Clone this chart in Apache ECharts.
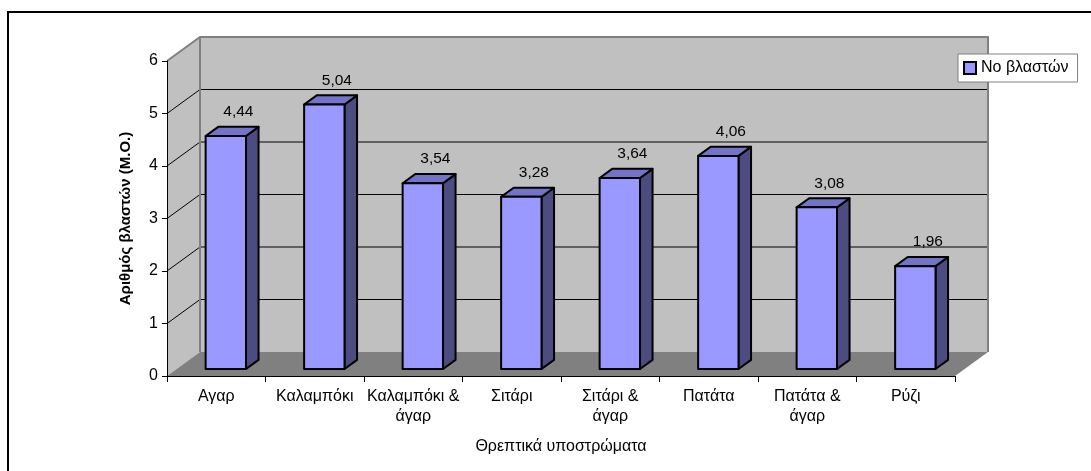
<!DOCTYPE html>
<html>
<head>
<meta charset="utf-8">
<script src="https://cdn.jsdelivr.net/npm/echarts@6/dist/echarts.min.js"></script>
<style>
  html, body { margin: 0; padding: 0; background: #fff; }
  #chart { width: 1091px; height: 471px; }
</style>
</head>
<body>
<div id="chart"></div>
<script>
// Substrates and mean number of shoots
const categories = ['Αγαρ', 'Καλαμπόκι', 'Καλαμπόκι &\nάγαρ', 'Σιτάρι', 'Σιτάρι &\nάγαρ', 'Πατάτα', 'Πατάτα &\nάγαρ', 'Ρύζι'];
const shoots = [4.44, 5.04, 3.54, 3.28, 3.64, 4.06, 3.08, 1.96];
const yTicks = [0, 1, 2, 3, 4, 5, 6];
const seriesName = 'Νο βλαστών';

// 3D look: depth vector of the plot box and the depth slice the columns occupy
const DX = 33, DY = -24;
const FRONT = 0.29, BACK = 0.67;
const BAR_W = 0.41;
const FONT = '"Liberation Sans", Arial, sans-serif';

const chart = echarts.init(document.getElementById('chart'));

function renderWalls(params, api) {
  const cs = params.coordSys;
  const x0 = cs.x, x1 = cs.x + cs.width;
  const yMin = yTicks[0], yMax = yTicks[yTicks.length - 1];
  const y0 = api.coord([0, yMin])[1];
  const yT = api.coord([0, yMax])[1];
  const children = [];
  // back wall
  children.push({ type: 'rect', shape: { x: x0 + DX, y: yT + DY, width: x1 - x0, height: y0 - yT },
    style: { fill: '#c0c0c0', stroke: null } });
  // side wall
  children.push({ type: 'polygon', shape: { points: [[x0, yT], [x0 + DX, yT + DY], [x0 + DX, y0 + DY], [x0, y0]] },
    style: { fill: '#c0c0c0' } });
  // floor
  children.push({ type: 'polygon', shape: { points: [[x0, y0], [x1, y0], [x1 + DX, y0 + DY], [x0 + DX, y0 + DY]] },
    style: { fill: '#808080' } });
  // gridlines along side and back walls
  yTicks.slice(1, -1).forEach(t => {
    const y = api.coord([0, t])[1];
    children.push({ type: 'polyline', shape: { points: [[x0, y], [x0 + DX, y + DY], [x1 + DX, y + DY]] },
      style: { stroke: '#000', lineWidth: 1, fill: null } });
  });
  // wall edges
  children.push({ type: 'polyline', shape: { points: [[x0, yT], [x0 + DX, yT + DY], [x1 + DX, yT + DY], [x1 + DX, y0 + DY]] },
    style: { stroke: '#808080', lineWidth: 2, fill: null } });
  children.push({ type: 'line', shape: { x1: x0 + DX, y1: yT + DY, x2: x0 + DX, y2: y0 + DY },
    style: { stroke: '#808080', lineWidth: 2 } });
  return { type: 'group', children };
}

function renderBar(params, api) {
  const i = api.value(0), v = api.value(1);
  const base = api.coord([i, 0]);
  const top = api.coord([i, v]);
  const w = api.size([1, 0])[0] * BAR_W;
  const fx = base[0] + FRONT * DX - w / 2, fyB = base[1] + FRONT * DY, fyT = top[1] + FRONT * DY;
  const bdx = (BACK - FRONT) * DX, bdy = (BACK - FRONT) * DY;
  const line = { stroke: '#000', lineWidth: 2, lineJoin: 'round' };
  const label = v.toFixed(2).replace('.', ',');
  return {
    type: 'group',
    children: [
      { type: 'polygon', shape: { points: [[fx + w, fyT], [fx + w + bdx, fyT + bdy], [fx + w + bdx, fyB + bdy], [fx + w, fyB]] },
        style: Object.assign({ fill: '#4c4c80' }, line) },
      { type: 'polygon', shape: { points: [[fx, fyT], [fx + w, fyT], [fx + w + bdx, fyT + bdy], [fx + bdx, fyT + bdy]] },
        style: Object.assign({ fill: '#7373c8' }, line) },
      { type: 'rect', shape: { x: fx, y: fyT, width: w, height: fyB - fyT },
        style: Object.assign({ fill: '#9999ff' }, line) },
      { type: 'text', x: fx + bdx + w / 2, y: fyT + bdy - 7,
        style: { text: label, fill: '#000', font: '15.5px ' + FONT, align: 'center', verticalAlign: 'bottom' } }
    ]
  };
}

chart.setOption({
  animation: false,
  backgroundColor: '#fff',
  textStyle: { fontFamily: FONT },
  graphic: [
    { type: 'rect', shape: { x: 8, y: 12, width: 1200, height: 600 },
      style: { fill: null, stroke: '#000', lineWidth: 2 }, z: -10 }
  ],
  grid: { left: 167, right: 136, top: 61, bottom: 95, containLabel: false, outerBoundsMode: 'none' },
  legend: {
    data: [{ name: seriesName, icon: 'rect' }],
    left: 958, top: 54,
    orient: 'vertical',
    backgroundColor: '#fff',
    borderColor: '#808080', borderWidth: 1, borderRadius: 0,
    padding: [6, 9, 6, 5],
    itemWidth: 12, itemHeight: 12, itemGap: 4,
    itemStyle: { color: '#9999ff', borderColor: '#000', borderWidth: 2 },
    textStyle: { fontSize: 16, color: '#000', fontFamily: FONT },
    selectedMode: false
  },
  xAxis: {
    type: 'category',
    data: categories,
    z: 10,
    boundaryGap: true,
    axisLine: { show: true, lineStyle: { color: '#000', width: 1 } },
    axisTick: { show: true, alignWithLabel: false, length: 6, lineStyle: { color: '#000' } },
    axisLabel: { fontSize: 16, color: '#000', lineHeight: 20, margin: 11, interval: 0, fontFamily: FONT },
    splitLine: { show: false },
    name: 'Θρεπτικά υποστρώματα',
    nameLocation: 'middle',
    nameGap: 63,
    nameTextStyle: { fontSize: 16, color: '#000', fontFamily: FONT }
  },
  yAxis: {
    type: 'value',
    min: yTicks[0], max: yTicks[yTicks.length - 1], interval: 1,
    z: 10,
    axisLine: { show: true, lineStyle: { color: '#000', width: 1 } },
    axisTick: { show: true, length: 5, lineStyle: { color: '#000' } },
    axisLabel: { fontSize: 16, color: '#000', margin: 9, fontFamily: FONT },
    splitLine: { show: false },
    name: 'Αριθμός βλαστών (Μ.Ο.)',
    nameLocation: 'middle',
    nameGap: 34,
    nameTextStyle: { fontSize: 15, fontWeight: 'bold', color: '#000', fontFamily: FONT }
  },
  series: [
    {
      type: 'custom',
      name: 'walls',
      z: 1,
      clip: false,
      silent: true,
      renderItem: renderWalls,
      data: [[0, 0]],
      encode: { x: 0, y: 1 }
    },
    {
      type: 'custom',
      name: seriesName,
      z: 3,
      clip: false,
      itemStyle: { color: '#9999ff', borderColor: '#000', borderWidth: 2 },
      renderItem: renderBar,
      data: shoots.map((v, i) => [i, v]),
      encode: { x: 0, y: 1 }
    }
  ]
});
</script>
</body>
</html>
